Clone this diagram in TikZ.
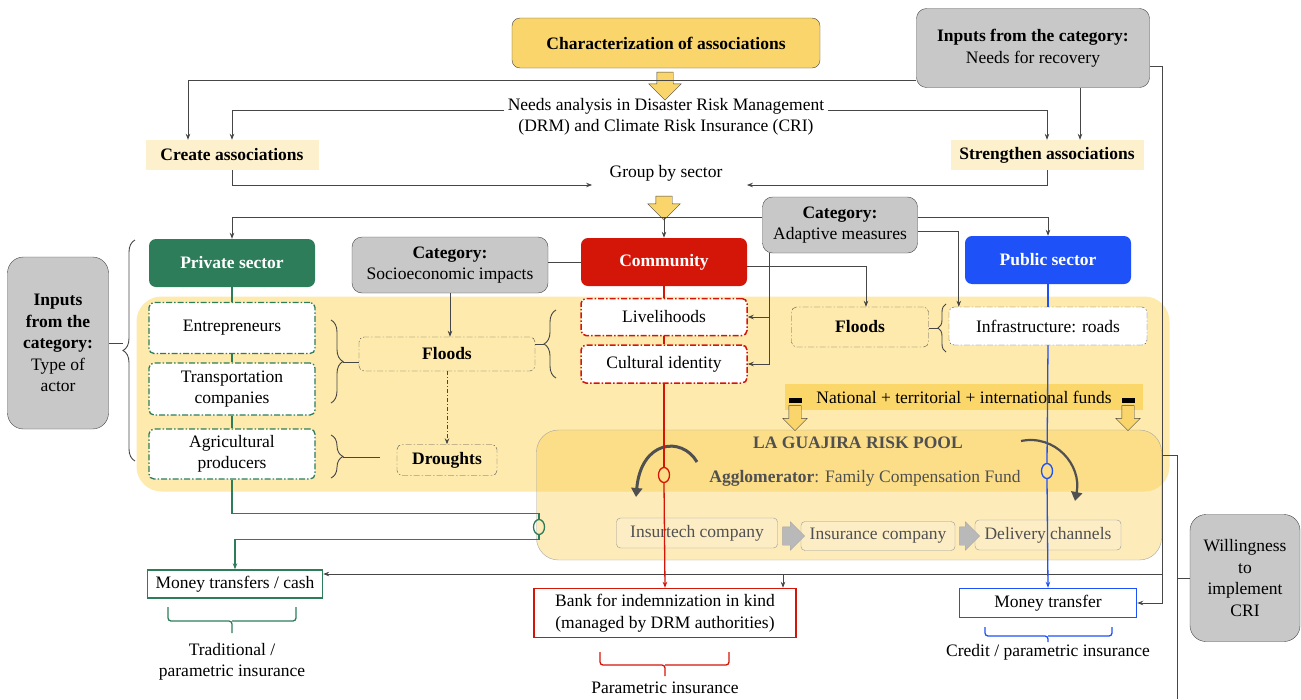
\documentclass[tikz,border=0pt]{standalone}
\usepackage{fontspec}
\setmainfont{Liberation Serif}
\usetikzlibrary{positioning,arrows.meta,shapes.arrows,shapes.geometric,decorations.pathreplacing}

\definecolor{CharYellow}{RGB}{249,213,107}
\definecolor{SoftCream}{RGB}{253,240,205}
\definecolor{CatGray}{RGB}{200,200,200}
\definecolor{PrivGreen}{RGB}{46,125,90}
\definecolor{CommRed}{RGB}{212,22,8}
\definecolor{PubBlue}{RGB}{30,82,248}
\definecolor{BgYellow}{RGB}{253,234,172}
\definecolor{PoolYellow}{RGB}{250,205,80}
\definecolor{BandYellow}{RGB}{251,214,105}
\definecolor{LineGray}{RGB}{70,70,70}
\definecolor{PoolText}{RGB}{80,80,80}
\newcommand{\DiagFont}{\fontsize{17.5}{21.5}\selectfont}

\begin{document}
\begin{tikzpicture}[x=1pt,y=-1pt]
  \useasboundingbox (0,0) rectangle (1301,699);
  \tikzstyle{every node}=[font=\DiagFont]
  \tikzstyle{Arr}=[draw=LineGray,line width=0.8pt,-{Stealth[length=6pt,width=4.5pt]}]
  \tikzstyle{Plain}=[draw=LineGray,line width=0.8pt]
  \tikzstyle{CatBox}=[draw=LineGray,fill=CatGray,rounded corners=10pt,align=center,inner sep=2pt]
  \tikzstyle{SectorBox}=[rounded corners=7pt,text=white,font=\DiagFont\bfseries,minimum width=166pt,minimum height=48pt]
  \tikzstyle{DashBox}=[rounded corners=5pt,dash pattern=on 6pt off 2pt on 1.5pt off 2pt,align=center,inner sep=1pt]
  \tikzstyle{CreamBox}=[fill=SoftCream,font=\DiagFont\bfseries,minimum height=30pt]
  \tikzstyle{OutBox}=[fill=white,line width=1.4pt,align=center]
  \tikzstyle{InsBox}=[draw=gray!80,fill=SoftCream,fill opacity=0.6,text opacity=1,text=PoolText,rounded corners=4pt]
  \tikzstyle{BigArrow}=[single arrow,draw=LineGray,fill=CharYellow,single arrow head extend=8pt,single arrow head indent=0pt,inner xsep=8pt,inner ysep=3pt,minimum height=28pt,shape border rotate=270]
  \tikzstyle{StepArrow}=[single arrow,draw=gray!70,fill=gray!55,single arrow head extend=5pt,single arrow head indent=0pt,inner xsep=2pt,inner ysep=9pt,minimum height=22pt]
  \tikzstyle{Ring}=[ellipse,minimum width=11pt,minimum height=15pt,inner sep=0pt,line width=1.3pt]
  \tikzstyle{Brace}=[decorate,decoration={brace,amplitude=12pt},line width=0.9pt]
  \tikzstyle{CurlArrow}=[draw=PoolText,line width=3pt,-{Triangle[length=9pt,width=11pt]}]

  \node[fill=BgYellow,rounded corners=25pt,minimum width=1033pt,minimum height=195pt] (zone) at (653,394) {};
  \node[draw=gray!70,fill=PoolYellow,fill opacity=0.4,rounded corners=22pt,minimum width=625pt,minimum height=130pt] (pool) at (849,495) {};
  \node[fill=BandYellow,minimum width=358pt,minimum height=26pt] (fnd) at (964,397) {National + territorial + international funds};

  \node[draw=LineGray,fill=CharYellow,rounded corners=8pt,minimum width=308pt,minimum height=50pt,font=\DiagFont\bfseries] (chr) at (666,43) {Characterization of associations};
  \node[BigArrow] (dn1) at (665,82) {};
  \node[align=center] (need) at (666,117) {Needs analysis in Disaster Risk Management\\(DRM) and Climate Risk Insurance (CRI)};
  \node[CatBox,minimum width=233pt,minimum height=79pt] (inr) at (1033,48) {\textbf{Inputs from the category:}\\Needs for recovery};
  \node[CreamBox,minimum width=173pt] (cra) at (232,155) {Create associations};
  \node[CreamBox,minimum width=193pt] (stra) at (1047,155) {Strengthen associations};
  \node (grp) at (666,173) {Group by sector};
  \node[BigArrow,minimum height=24pt] (dn2) at (664,204) {};

  \node[SectorBox,fill=PrivGreen] (prv) at (232,263) {Private sector};
  \node[SectorBox,fill=CommRed] (com) at (664,262) {Community};
  \node[SectorBox,fill=PubBlue] (pub) at (1048,260) {Public sector};
  \node[CatBox,minimum width=196pt,minimum height=56pt] (cse) at (450,265) {\textbf{Category:}\\Socioeconomic impacts};
  \node[CatBox,minimum width=155pt,minimum height=56pt] (cam) at (840,225) {\textbf{Category:}\\Adaptive measures};

  \node[DashBox,draw=PrivGreen,fill=white,line width=1.3pt,minimum width=166pt,minimum height=51pt] (ent) at (232,328) {Entrepreneurs};
  \node[DashBox,draw=PrivGreen,fill=white,line width=1.3pt,minimum width=166pt,minimum height=52pt] (trn) at (232,389) {Transportation\\companies};
  \node[DashBox,draw=PrivGreen,fill=white,line width=1.3pt,minimum width=166pt,minimum height=50pt] (agr) at (232,454) {Agricultural\\producers};
  \node[DashBox,draw=gray!70!black,minimum width=176pt,minimum height=34pt,font=\DiagFont\bfseries] (fld) at (447,354) {Floods};
  \node[DashBox,draw=gray!70!black,minimum width=100pt,minimum height=31pt,font=\DiagFont\bfseries] (drt) at (447,460) {Droughts};
  \node[DashBox,draw=CommRed,fill=white,line width=1.5pt,minimum width=166pt,minimum height=37pt] (liv) at (664,317) {Livelihoods};
  \node[DashBox,draw=CommRed,fill=white,line width=1.5pt,minimum width=166pt,minimum height=38pt] (cul) at (664,364) {Cultural identity};
  \node[DashBox,draw=gray!70!black,minimum width=137pt,minimum height=40pt,font=\DiagFont\bfseries] (flr) at (860,327) {Floods};
  \node[DashBox,draw=gray!70!black,fill=white,minimum width=198pt,minimum height=38pt] (inf) at (1048,326) {Infrastructure: roads};

  \node[BigArrow,minimum height=25pt,inner xsep=6pt,inner ysep=2pt,single arrow head extend=6pt] (fa) at (795,415) {};
  \node[BigArrow,minimum height=25pt,inner xsep=6pt,inner ysep=2pt,single arrow head extend=6pt] (fb) at (1128,415) {};
  \node[fill=black,minimum width=13pt,minimum height=5pt,inner sep=0pt] (fabar) at (795,400) {};
  \node[fill=black,minimum width=13pt,minimum height=5pt,inner sep=0pt] (fbbar) at (1128,400) {};

  \node[text=PoolText,font=\DiagFont\bfseries] (ptl) at (858,443) {LA GUAJIRA RISK POOL};
  \node[text=PoolText] (agg) at (865,478) {\textbf{Agglomerator}: Family Compensation Fund};
  \node[InsBox,minimum width=161pt,minimum height=30pt] (itc) at (697,533) {Insurtech company};
  \node[InsBox,minimum width=154pt,minimum height=29pt] (isc) at (878,536) {Insurance company};
  \node[InsBox,minimum width=146pt,minimum height=30pt] (dlv) at (1048,535) {Delivery channels};
  \node[StepArrow] (s1) at (789,536) {};
  \node[StepArrow,minimum height=20pt] (s2) at (965,536) {};
  \node[Ring,draw=CommRed] (rc) at (664,475) {};
  \node[Ring,draw=PubBlue] (bc) at (1047,471) {};
  \node[Ring,draw=PrivGreen] (gc) at (539,527) {};
  \coordinate (c1a) at (697,462);
  \coordinate (c1b) at (636,497);
  \coordinate (c2a) at (1021,441);
  \coordinate (c2b) at (1075,501);
  \draw[CurlArrow] (c1a) .. controls (682,436) and (641,440) .. (c1b);
  \draw[CurlArrow,line width=2.2pt] (c2a) .. controls (1055,434) and (1082,465) .. (c2b);

  \node[OutBox,draw=PrivGreen,minimum width=175pt,minimum height=28pt] (mtc) at (235,584) {Money transfers / cash};
  \node[OutBox,draw=CommRed,minimum width=262pt,minimum height=49pt] (bnk) at (665,613) {Bank for indemnization in kind\\(managed by DRM authorities)};
  \node[OutBox,draw=PubBlue,minimum width=177pt,minimum height=29pt] (mtr) at (1048,603) {Money transfer};
  \node[align=center] (lt) at (232,662) {Traditional /\\parametric insurance};
  \node (lp) at (665,688) {Parametric insurance};
  \node (lc) at (1048,652) {Credit / parametric insurance};
  \node[CatBox,rounded corners=16pt,minimum width=110pt,minimum height=127pt] (wil) at (1245,578) {Willingness\\to\\implement\\CRI};
  \node[CatBox,rounded corners=16pt,minimum width=101pt,minimum height=172pt] (ita) at (58,343) {\textbf{Inputs}\\\textbf{from the}\\\textbf{category:}\\Type of\\actor};

  \draw[Arr] ([yshift=-32pt]inr.west) -| ([xshift=-44pt]cra.north);
  \draw[Arr] ([yshift=7pt]need.west) -| (cra.north);
  \draw[Arr] ([yshift=7pt]need.east) -| (stra.north);
  \draw[Arr] ([xshift=47pt]inr.south) -- ([xshift=47pt]inr.south |- stra.north);
  \draw[Arr] (cra.south) |- ([xshift=-14pt,yshift=-12pt]grp.west);
  \draw[Arr] (stra.south) |- ([xshift=21pt,yshift=-12pt]grp.east);
  \coordinate (bus) at (664,217);
  \draw[Arr] (bus) -| (prv.north);
  \draw[Arr] (bus) -- (com.north);
  \draw[Plain] (bus) -- (bus -| cam.west);
  \draw[Arr] (bus -| cam.east) -| (pub.north);
  \draw[Plain] (com.west -| cse.east) -- (com.west);
  \draw[Arr] (cse.south) -- (cse.south |- fld.north);
  \draw[Arr,dash pattern=on 4pt off 2pt on 1pt off 2pt] (fld.south) -- (drt.north);
  \draw[Arr] ([yshift=-4pt]com.east) -| ([xshift=6pt]flr.north);
  \draw[Arr] ([xshift=-71pt]cam.south) |- (cul.east);
  \draw[Arr] ([xshift=-71pt]cam.south |- liv.east) -- (liv.east);
  \draw[Arr] ([yshift=-6pt]cam.east) -| ([xshift=10pt]inf.north west);
  \draw[Arr] ([yshift=-18pt]inr.east) -- ++(13,0) |- (mtr.east);
  \coordinate (cr) at (1163,574);
  \coordinate (bk) at (783,574);
  \draw[Arr] (cr) -- (cr -| mtc.east);
  \draw[Arr] (bk) -- (bk |- bnk.north);
  \coordinate (wt) at (1177,455);
  \coordinate (wb) at (1177,699);
  \draw[Plain] ([yshift=40pt]pool.east) -- (wt) -- (wb);
  \draw[Plain] (wil.west -| wt) -- (wil.west);

  \draw[draw=CommRed,line width=1.3pt] (com.south) -- (liv.north);
  \draw[draw=CommRed,line width=1.3pt] (liv.south) -- (cul.north);
  \draw[draw=CommRed,line width=1.3pt] (cul.south) -- (rc.north);
  \draw[draw=CommRed,line width=1.3pt,-{Stealth[length=6pt,width=4.5pt]}] (rc.south) -- (bnk.north);
  \draw[draw=PubBlue,line width=1.3pt] (pub.south) -- (inf.north);
  \draw[draw=PubBlue,line width=1.3pt] (inf.south) -- (bc.north);
  \draw[draw=PubBlue,line width=1.3pt,-{Stealth[length=6pt,width=4.5pt]}] (bc.south) -- (mtr.north);
  \draw[draw=PrivGreen,line width=1.3pt] (prv.south) -- (ent.north);
  \draw[draw=PrivGreen,line width=1.3pt] (ent.south) -- (trn.north);
  \draw[draw=PrivGreen,line width=1.3pt] (trn.south) -- (agr.north);
  \draw[draw=PrivGreen,line width=1.3pt] (agr.south) -- ++(0,34) -| (gc.north);
  \draw[draw=PrivGreen,line width=1.3pt,-{Stealth[length=6pt,width=4.5pt]}] (gc.south) -- ++(0,4) -| (mtc.north);

  \draw[Brace,draw=LineGray] (135,461) -- (135,240);
  \draw[Plain] (109,343) -- (123,343);
  \draw[Brace,draw=LineGray] (331,320) -- (331,403);
  \draw[Plain] (343,362) -- (fld.west |- 0,362);
  \draw[Brace,draw=LineGray] (331,435) -- (331,478);
  \draw[Plain] (343,457) -- (380,457);
  \draw[Brace,draw=LineGray] (556,378) -- (556,310);
  \draw[Plain] (fld.east |- 0,344) -- (544,344);
  \draw[Brace,draw=LineGray,decoration={brace,amplitude=8pt}] (946,352) -- (946,304);
  \draw[Plain] (flr.east |- 0,328) -- (938,328);
  \draw[draw=PrivGreen,line width=1.3pt,rounded corners=3pt] (168,607) |- (232,621) -- (232,633);
  \draw[draw=PrivGreen,line width=1.3pt,rounded corners=3pt] (296,607) |- (232,621);
  \draw[draw=CommRed,line width=1.3pt,rounded corners=3pt] (600,652) |- (665,665) -- (665,676);
  \draw[draw=CommRed,line width=1.3pt,rounded corners=3pt] (729,652) |- (665,665);
  \draw[draw=PubBlue,line width=1.3pt,rounded corners=3pt] (985,627) |- (1048,636) -- (1048,642);
  \draw[draw=PubBlue,line width=1.3pt,rounded corners=3pt] (1112,627) |- (1048,636);
\end{tikzpicture}
\end{document}
